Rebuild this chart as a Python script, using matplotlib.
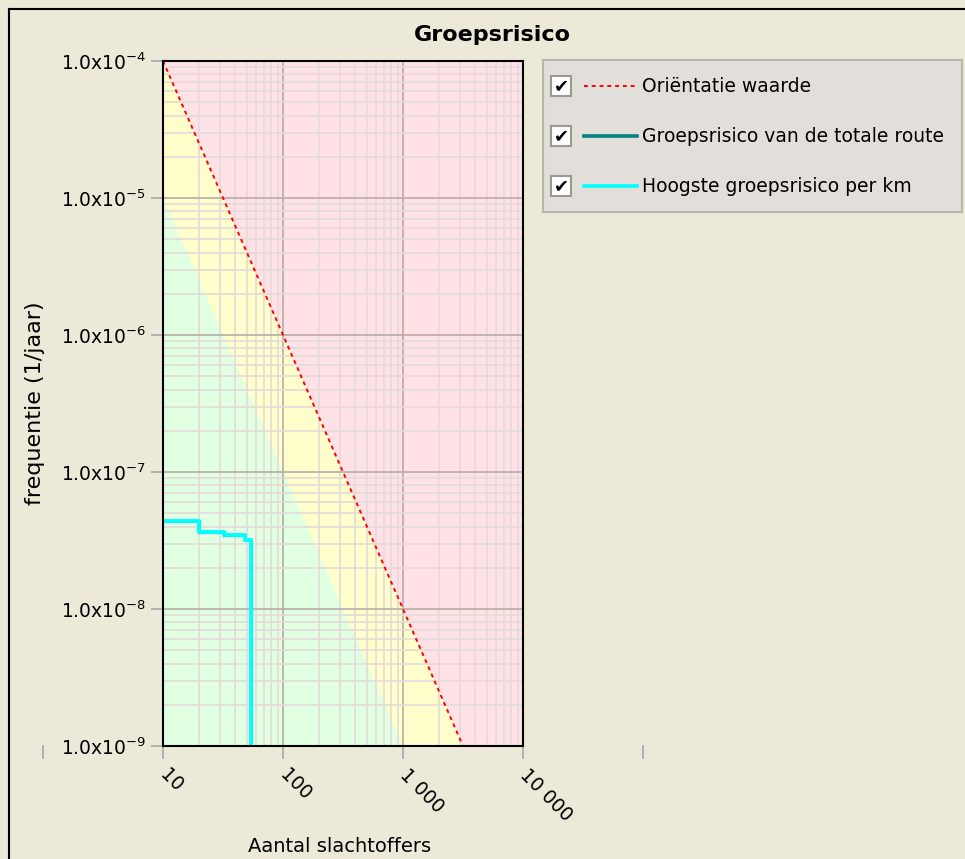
import matplotlib
matplotlib.use("Agg")
import matplotlib.pyplot as plt
from matplotlib.lines import Line2D
from matplotlib.patches import Rectangle
from matplotlib.ticker import FixedLocator, FixedFormatter, LogLocator, NullFormatter
import numpy as np

# ---- data ----
n_range = [10, 10000]
f_orientatie = [1e-4, 1e-10]          # F = 1e-2 / N^2
f_lower = [1e-5, 1e-11]               # 0.1 x orientatiewaarde
hoogste_n = [10, 20, 20, 32, 32, 48, 48, 54, 54]
hoogste_f = [4.4e-8, 4.4e-8, 3.65e-8, 3.65e-8, 3.45e-8, 3.45e-8, 3.2e-8, 3.2e-8, 1e-9]
totale_n = hoogste_n
totale_f = hoogste_f
x_ticks = [10, 100, 1000, 10000]
x_ticklabels = ["10", "100", "1 000", "10 000"]
y_ticks = [1e-9, 1e-8, 1e-7, 1e-6, 1e-5, 1e-4]
y_ticklabels = [r"1.0x10$^{-9}$", r"1.0x10$^{-8}$", r"1.0x10$^{-7}$",
                r"1.0x10$^{-6}$", r"1.0x10$^{-5}$", r"1.0x10$^{-4}$"]
legend_labels = ["Oriëntatie waarde", "Groepsrisico van de totale route",
                 "Hoogste groepsrisico per km"]

W, H = 965, 859
BG = "#ECE9D8"
fig = plt.figure(figsize=(W / 100, H / 100), dpi=100, facecolor=BG)
plt.rcParams['font.family'] = ['DejaVu Sans']

def fx(px):
    return px / W

def fy(py):
    return 1 - py / H

ax = fig.add_axes([fx(163), fy(746), fx(523) - fx(163), fy(61) - fy(746)])
ax.set_xscale("log")
ax.set_yscale("log")
ax.set_xlim(10, 10000)
ax.set_ylim(1e-9, 1e-4)
ax.set_facecolor("#FFE1E6")

ax.fill_between(n_range, 1e-14, f_orientatie, color="#FFFFCC", lw=0, zorder=0.5)
ax.fill_between(n_range, 1e-14, f_lower, color="#E1FFE1", lw=0, zorder=0.6)

ax.xaxis.set_major_locator(FixedLocator(x_ticks))
ax.xaxis.set_major_formatter(FixedFormatter(x_ticklabels))
ax.xaxis.set_minor_locator(LogLocator(base=10, subs=np.arange(2, 10)))
ax.xaxis.set_minor_formatter(NullFormatter())
ax.yaxis.set_major_locator(FixedLocator(y_ticks))
ax.yaxis.set_major_formatter(FixedFormatter(y_ticklabels))
ax.yaxis.set_minor_locator(LogLocator(base=10, subs=np.arange(2, 10)))
ax.yaxis.set_minor_formatter(NullFormatter())

ax.grid(which="minor", color="#E4DADA", lw=1.2, zorder=1)
ax.grid(which="major", color="#B8ACA6", lw=1.2, zorder=1.1)
ax.set_axisbelow(False)

ax.plot(n_range, f_orientatie, color="red", ls=(0, (2.0, 2.0)), lw=1.4, zorder=3)
ax.plot(totale_n, totale_f, color="#008080", lw=2.2, zorder=3)
ax.plot(hoogste_n, hoogste_f, color="#00FFFF", lw=2.8, zorder=4)

for s in ax.spines.values():
    s.set_color("black")
    s.set_linewidth(1.5)
    s.set_zorder(5)

ax.tick_params(which="minor", length=0)
ax.tick_params(which="major", length=9, width=1.2, color="#A8A8A8", labelsize=13.5, pad=3)
ax.tick_params(axis="x", pad=10)
for lab in ax.get_xticklabels():
    lab.set_rotation(-45)
    lab.set_rotation_mode("anchor")
    lab.set_ha("left")
    lab.set_va("center")

# extra axis ticks outside the plot
for px in (43, 643):
    fig.add_artist(Line2D([fx(px), fx(px)], [fy(746), fy(758)], color="#A8A8A8", lw=1.2))

# outer frame
fig.add_artist(Line2D([fx(9), fx(9)], [fy(9), 0], color="black", lw=1.5))
fig.add_artist(Line2D([fx(9), 1], [fy(9), fy(9)], color="black", lw=1.5))

# title and labels
fig.text(fx(492), fy(35), "Groepsrisico", ha="center", va="center", fontsize=16, fontweight="bold")
fig.text(fx(35), fy(403), "frequentie (1/jaar)", ha="center", va="center", rotation=90, fontsize=16)
fig.text(fx(340), fy(846), "Aantal slachtoffers", ha="center", va="center", fontsize=14)

# legend
fig.add_artist(Rectangle((fx(543), fy(212)), fx(962) - fx(543), fy(60) - fy(212),
                         facecolor="#E2DED9", edgecolor="#B8B4AC", lw=1.5))
leg_styles = [dict(color="red", ls=(0, (2.0, 2.0)), lw=1.4),
              dict(color="#008080", ls="-", lw=2.6),
              dict(color="#00FFFF", ls="-", lw=2.6)]
for i, (lab, st) in enumerate(zip(legend_labels, leg_styles)):
    yc = 86 + 50 * i
    fig.add_artist(Rectangle((fx(551), fy(yc + 10)), fx(20), fx(20) * W / H,
                             facecolor="white", edgecolor="#9C9A90", lw=1.5))
    fig.text(fx(561), fy(yc), "✔", ha="center", va="center", fontsize=13, color="black")
    fig.add_artist(Line2D([fx(584), fx(637)], [fy(yc), fy(yc)], **st))
    fig.text(fx(642), fy(yc), lab, ha="left", va="center", fontsize=13.5)

fig.savefig("out.png", dpi=100, facecolor=BG)
